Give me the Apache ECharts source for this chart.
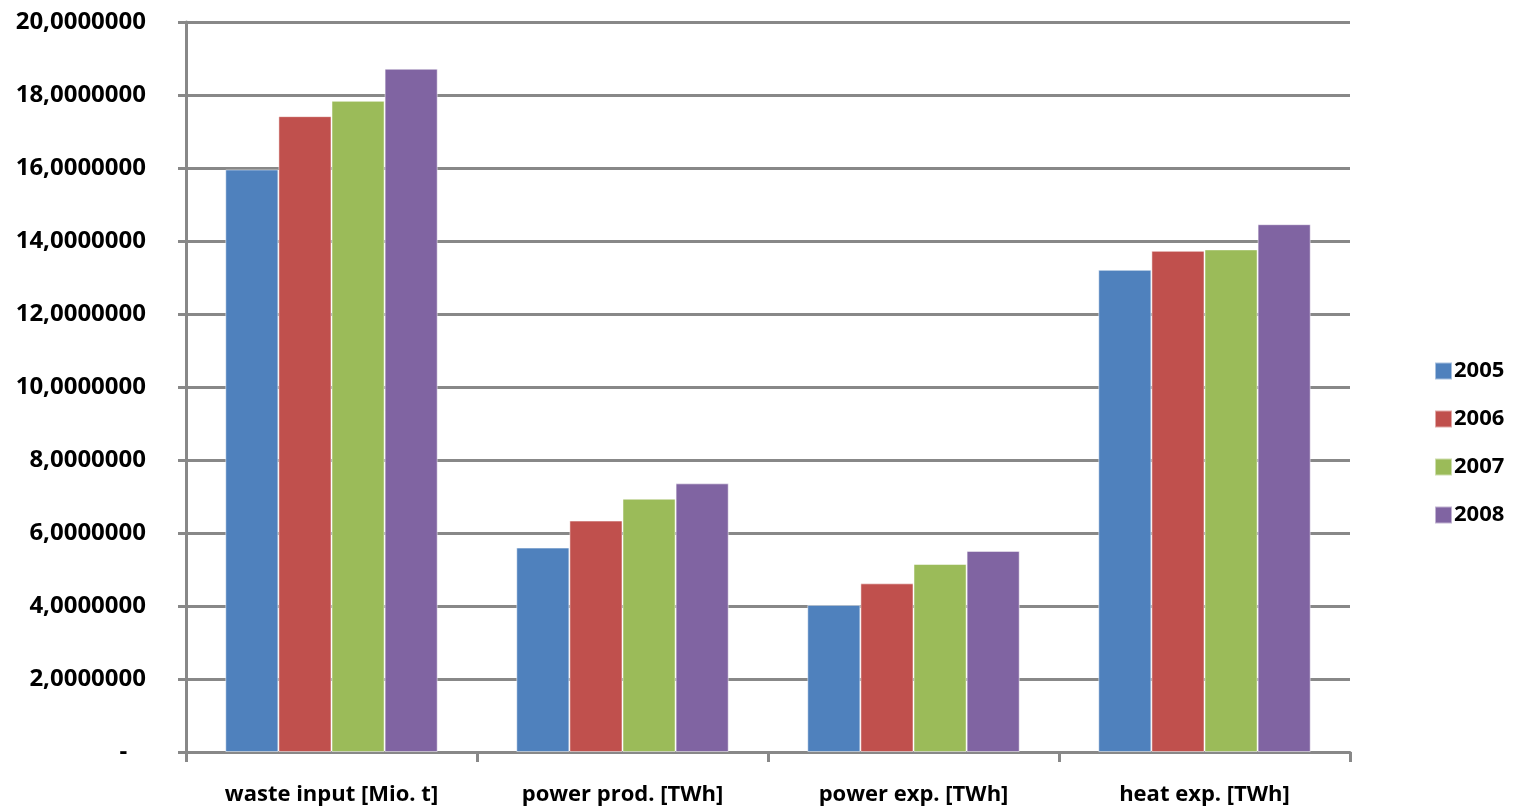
<!DOCTYPE html>
<html><head><meta charset="utf-8">
<script src="https://cdn.jsdelivr.net/npm/echarts@6/dist/echarts.min.js"></script>
<style>html,body{margin:0;padding:0;background:#fff}#c{width:1513px;height:811px}</style>
</head><body><div id="c"></div>
<script>
const categories = ['waste input [Mio. t]', 'power prod. [TWh]', 'power exp. [TWh]', 'heat exp. [TWh]'];
const years = ['2005', '2006', '2007', '2008'];
const v2005 = [15.96, 5.60, 4.03, 13.21];
const v2006 = [17.42, 6.34, 4.62, 13.73];
const v2007 = [17.84, 6.94, 5.15, 13.77];
const v2008 = [18.72, 7.36, 5.51, 14.46];
const colors = ['#4F81BD', '#C0504D', '#9BBB59', '#8064A2'];
const seriesValues = [v2005, v2006, v2007, v2008];

const chart = echarts.init(document.getElementById('c'));
const font = 'Open Sans';
chart.setOption({
  animation: false,
  color: colors,
  grid: { left: 186, right: 163, top: 22, bottom: 59, containLabel: false },
  legend: {
    orient: 'vertical', left: 1429, top: 355,
    itemWidth: 17, itemHeight: 17, itemGap: 26,
    icon: 'rect',
    textStyle: { fontFamily: font, fontWeight: 'bold', fontSize: 22, color: '#000', padding: [0, 0, 0, -3] },
    data: years
  },
  xAxis: {
    type: 'category', data: categories,
    axisLine: { lineStyle: { color: '#888', width: 3 } },
    axisTick: { show: true, length: 10, lineStyle: { color: '#888', width: 3 } },
    axisLabel: { margin: 32, fontFamily: font, fontWeight: 'bold', fontSize: 22, color: '#000' }
  },
  yAxis: {
    type: 'value', min: 0, max: 20, interval: 2,
    axisLine: { show: true, lineStyle: { color: '#888', width: 3 } },
    axisTick: { show: true, length: 8, lineStyle: { color: '#888', width: 3 } },
    splitLine: { lineStyle: { color: '#888', width: 3 } },
    axisLabel: {
      margin: 40, fontFamily: font, fontWeight: 'bold', fontSize: 24, color: '#000',
      formatter: v => v === 0 ? '-   ' : v.toFixed(7).replace('.', ',')
    }
  },
  series: years.map((y, i) => ({
    name: y, type: 'bar', data: seriesValues[i],
    barGap: '0%', barCategoryGap: '27%',
    itemStyle: { color: colors[i], borderColor: 'rgba(255,255,255,0.5)', borderWidth: 1 }
  }))
});
</script></body></html>
